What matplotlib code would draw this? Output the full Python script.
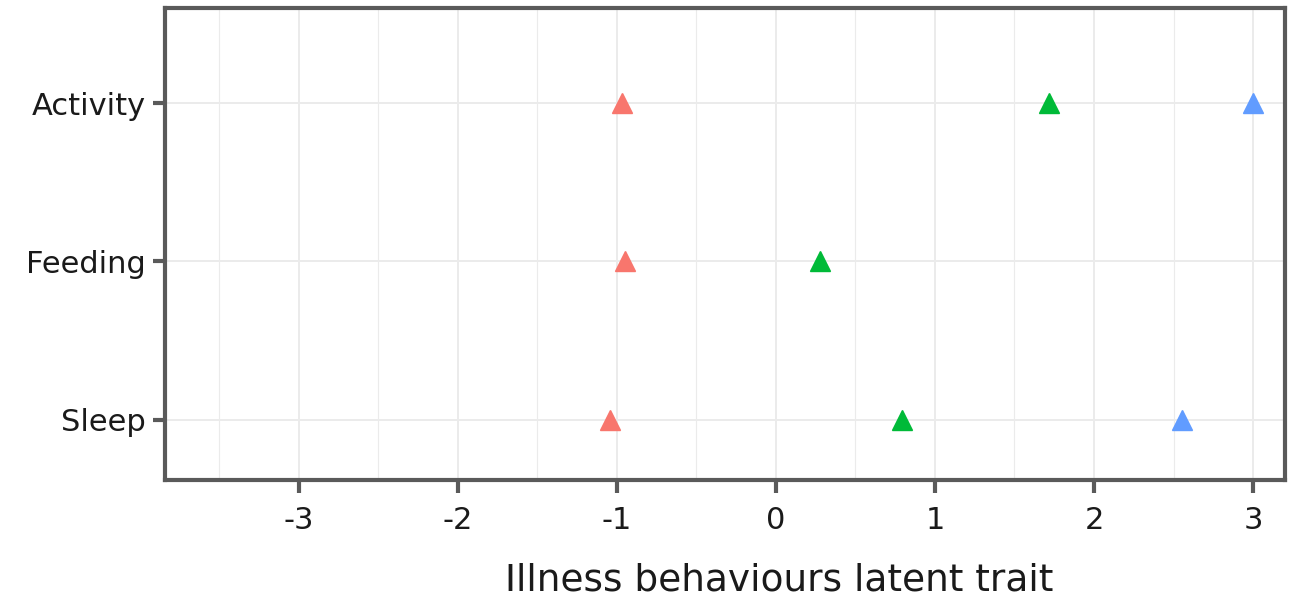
import numpy as np
import matplotlib.pyplot as plt

# categories on the y axis (bottom to top)
behaviours = ['Sleep', 'Feeding', 'Activity']

# latent trait estimates per group (None = no point)
red_vals = [-1.04, -0.95, -0.97]
green_vals = [0.79, 0.28, 1.72]
blue_vals = [2.55, None, 3.0]

colors = ['#F8766D', '#00BA38', '#619CFF']
x_ticks = [-3, -2, -1, 0, 1, 2, 3]

fig = plt.figure(figsize=(12.97, 6), dpi=100)
ax = fig.add_axes([0.1272, 0.2, 0.8635, 0.7867])

ypos = np.arange(1, len(behaviours) + 1)
for vals, col in zip([red_vals, green_vals, blue_vals], colors):
    xs = [v for v in vals if v is not None]
    ys = [y for v, y in zip(vals, ypos) if v is not None]
    ax.plot(xs, ys, linestyle='none', marker='^', markersize=14,
            color=col, zorder=3, clip_on=False)

ax.set_xlim(-3.84, 3.2)
ax.set_ylim(0.62, 3.6)
ax.set_xticks(x_ticks)
ax.set_xticklabels([str(t) for t in x_ticks])
ax.set_xticks(np.arange(-3.5, 3.5, 1.0), minor=True)
ax.set_yticks(ypos)
ax.set_yticklabels(behaviours)

ax.grid(True, which='major', color='#EBEBEB', linewidth=1.4, zorder=0)
ax.grid(True, which='minor', axis='x', color='#EBEBEB', linewidth=0.8, zorder=0)
ax.set_axisbelow(True)

for s in ax.spines.values():
    s.set_color('#5A5A5A')
    s.set_linewidth(3)

ax.tick_params(which='major', length=9, width=3, color='#5A5A5A',
               labelsize=22, labelcolor='#1A1A1A', pad=5)
ax.tick_params(axis='x', which='major', pad=10)
ax.tick_params(which='minor', length=0)

ax.set_xlabel('Illness behaviours latent trait', fontsize=27,
              color='#1A1A1A')
ax.xaxis.set_label_coords(0.548, -0.175)

fig.savefig('out.png', dpi=100)
